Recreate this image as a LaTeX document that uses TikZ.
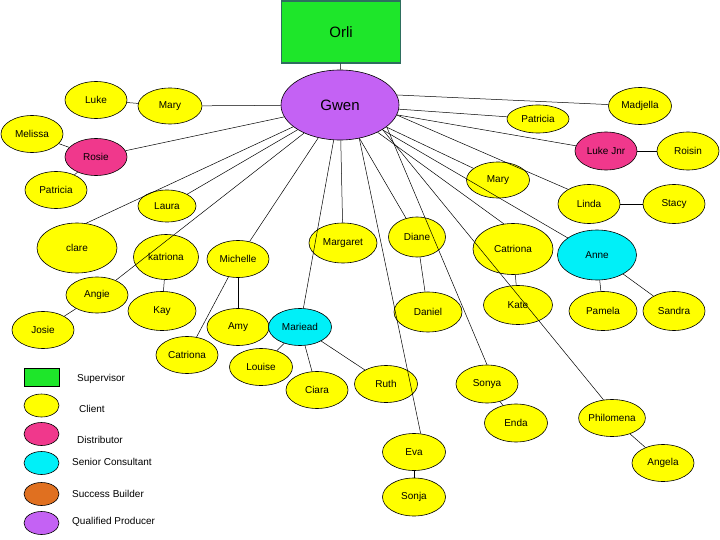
\documentclass[tikz,border=0pt]{standalone}
\usepackage{fontspec}
\setmainfont{Liberation Sans}
\usepackage{tikz}
\usetikzlibrary{shapes.geometric}
\usepackage{xcolor}
\definecolor{ChartGreen}{HTML}{1EE62A}
\definecolor{ChartBorder}{HTML}{2E6E5E}
\definecolor{ChartYellow}{HTML}{FFFF00}
\definecolor{ChartPink}{HTML}{F0388C}
\definecolor{ChartCyan}{HTML}{00F0F8}
\definecolor{ChartOrange}{HTML}{E07020}
\definecolor{ChartPurple}{HTML}{C462F4}
\tikzset{
  person/.style={ellipse, draw=black, line width=0.6pt, inner sep=0pt,
    minimum width=62pt, minimum height=37pt, font=\fontsize{10}{12}\selectfont},
  client/.style={person, fill=ChartYellow},
  distributor/.style={person, fill=ChartPink},
  senior/.style={person, fill=ChartCyan},
  producer/.style={person, fill=ChartPurple},
  builder/.style={person, fill=ChartOrange},
  supervisor/.style={rectangle, draw=ChartBorder, line width=1.2pt, fill=ChartGreen,
    inner sep=0pt, font=\fontsize{15}{18}\selectfont},
  big/.style={minimum width=80pt, minimum height=50pt},
  swatch/.style={minimum width=35pt, minimum height=23pt},
  link/.style={line width=0.5pt},
  key/.style={font=\fontsize{10}{12}\selectfont, anchor=west, inner sep=0pt}
}

\begin{document}
\begin{tikzpicture}[x=1pt,y=-1pt]
    \useasboundingbox (0,0) rectangle (720,540);
    % top of the tree
    \node[supervisor, minimum width=119pt, minimum height=62pt] (orli) at (341,32) {Orli};
    \node[producer, minimum width=118pt, minimum height=70pt, font=\fontsize{15}{18}\selectfont] (gwen) at (340,105) {Gwen};
    % left side
    \node[client] (lukeL) at (96,100) {Luke};
    \node[client, minimum width=64pt, minimum height=36pt] (maryL) at (170,106) {Mary};
    \node[client] (melissa) at (32,134) {Melissa};
    \node[distributor] (rosie) at (96,157) {Rosie};
    \node[client] (patriciaL) at (56,190) {Patricia};
    \node[client, minimum width=58pt, minimum height=32pt] (laura) at (167,206) {Laura};
    \node[client, big] (clare) at (77,248) {clare};
    \node[client, minimum width=65pt, minimum height=45pt] (katriona) at (166,257) {katriona};
    \node[client] (michelle) at (238,259) {Michelle};
    \node[client, minimum height=36pt] (angie) at (97,295) {Angie};
    \node[client] (josie) at (43,330) {Josie};
    \node[client, minimum width=68pt, minimum height=39pt] (kay) at (162,311) {Kay};
    \node[client] (catrionaL) at (187,355) {Catriona};
    \node[client] (amy) at (238,327) {Amy};
    \node[senior, minimum width=63pt] (mariead) at (300,327) {Mariead};
    \node[client, minimum width=63pt] (louise) at (261,367) {Louise};
    \node[client] (ciara) at (317,390) {Ciara};
    % middle
    \node[client, minimum width=68pt, minimum height=40pt] (margaret) at (343,243) {Margaret};
    \node[client, minimum width=57pt, minimum height=40pt] (diane) at (417,237) {Diane};
    \node[client, minimum width=68pt, minimum height=40pt] (daniel) at (428,312) {Daniel};
    \node[client, minimum width=63pt] (ruth) at (386,384) {Ruth};
    \node[client, minimum width=63pt] (eva) at (414,452) {Eva};
    \node[client, minimum width=63pt, minimum height=38pt] (sonja) at (414,497) {Sonja};
    \node[client, minimum height=38pt] (sonya) at (487,384) {Sonya};
    \node[client, minimum width=63pt, minimum height=38pt] (enda) at (516,423) {Enda};
    % right side
    \node[client, minimum width=80pt, minimum height=51pt] (catrionaR) at (513,249) {Catriona};
    \node[client, minimum width=69pt, minimum height=39pt] (kate) at (518,305) {Kate};
    \node[senior, minimum width=79pt, minimum height=50pt] (anne) at (597,255) {Anne};
    \node[client, minimum width=68pt, minimum height=39pt] (pamela) at (603,311) {Pamela};
    \node[client, minimum height=39pt] (sandra) at (674,311) {Sandra};
    \node[client] (philomena) at (612,418) {Philomena};
    \node[client] (angela) at (663,463) {Angela};
    \node[client, minimum width=63pt, minimum height=36pt] (maryR) at (498,180) {Mary};
    \node[client, minimum height=39pt] (linda) at (589,204) {Linda};
    \node[client, minimum height=39pt] (stacy) at (674,204) {Stacy};
    \node[distributor, minimum height=38pt] (lukejnr) at (606,151) {Luke Jnr};
    \node[client, minimum height=38pt] (roisin) at (688,151) {Roisin};
    \node[client, minimum height=28pt] (patriciaR) at (538,119) {Patricia};
    \node[client, minimum width=63pt] (madjella) at (640,106) {Madjella};
    % links from Gwen
    \draw[link] (orli) -- (gwen);
    \foreach \n in {maryL,rosie,laura,angie,michelle,mariead,margaret,diane,maryR,anne,lukejnr,patriciaR}
      \draw[link] (gwen) -- (\n);
    \draw[link] (gwen) -- (clare.70);
    \draw[link] (gwen.10) -- (madjella);
    \draw[link] (gwen.350) -- (linda.145);
    \draw[link] (gwen.330) -- (philomena.115);
    \draw[link] (gwen) -- (catrionaR.110);
    \draw[link] (gwen.335) -- (sonya.north);
    \draw[link] (gwen.300) -- (eva.70);
    % other links
    \foreach \a/\b in {lukeL/maryL,melissa/rosie,patriciaL/rosie,katriona/kay,angie/josie,
      michelle/amy,michelle/catrionaL,mariead/louise,mariead/ciara,mariead/ruth,
      diane/daniel,sonya/enda,eva/sonja,catrionaR/kate,anne/pamela,anne/sandra,
      philomena/angela,linda/stacy,lukejnr/roisin}
      \draw[link] (\a) -- (\b);
    % legend
    \node[supervisor, minimum width=35pt, minimum height=18pt, line width=0.8pt, draw=black] (keySup) at (41.5,377) {};
    \node[client, swatch] (keyClient) at (41.5,405.5) {};
    \node[distributor, swatch] (keyDist) at (41.5,434) {};
    \node[senior, swatch] (keySenior) at (41.5,463) {};
    \node[builder, swatch] (keyBuilder) at (41.5,494) {};
    \node[producer, swatch] (keyProducer) at (41.5,523) {};
    \node[key] (txtSup) at (77,379) {Supervisor};
    \node[key] (txtClient) at (79,409) {Client};
    \node[key] (txtDist) at (77,440) {Distributor};
    \node[key] (txtSenior) at (72,462) {Senior Consultant};
    \node[key] (txtBuilder) at (72,494) {Success Builder};
    \node[key] (txtProducer) at (72,522) {Qualified Producer};
\end{tikzpicture}
\end{document}
